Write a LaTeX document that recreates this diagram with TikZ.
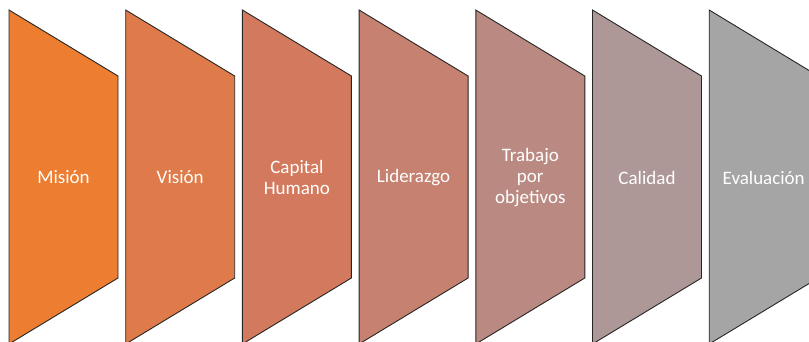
\documentclass[tikz,border=0pt]{standalone}
\usepackage{fontspec}
\setmainfont{Carlito}
\begin{document}
\begin{tikzpicture}[x=1pt,y=-1pt,
  lbl/.style={text=white,font=\fontsize{19}{21}\selectfont,align=center,inner sep=0pt},
  stage/.style={draw=black!85,line width=0.9pt,line join=miter}]
\useasboundingbox (0,0) rectangle (809,341);
\begin{scope}
\clip (0,0) rectangle (809,341);
\definecolor{c0}{RGB}{237,125,49}
\definecolor{c1}{RGB}{223,123,74}
\definecolor{c2}{RGB}{211,122,94}
\definecolor{c3}{RGB}{198,129,112}
\definecolor{c4}{RGB}{186,138,130}
\definecolor{c5}{RGB}{174,151,151}
\definecolor{c6}{RGB}{165,165,165}
\foreach \i/\txt in {0/Misión,1/Visión,2/{Capital\\Humano},3/Liderazgo,4/{Trabajo\\por\\objetivos},5/Calidad,6/Evaluación}{
  \pgfmathsetmacro{\xl}{9+116.7*\i}
  \pgfmathsetmacro{\xr}{\xl+109}
  \pgfmathsetmacro{\xc}{\xl+54.5}
  \draw[stage,fill=c\i] (\xl,10) -- (\xr,76) -- (\xr,278) -- (\xl,344) -- cycle;
  \node[lbl] (n\i) at (\xc,177.5) {\txt};
}
\end{scope}
\end{tikzpicture}
\end{document}
